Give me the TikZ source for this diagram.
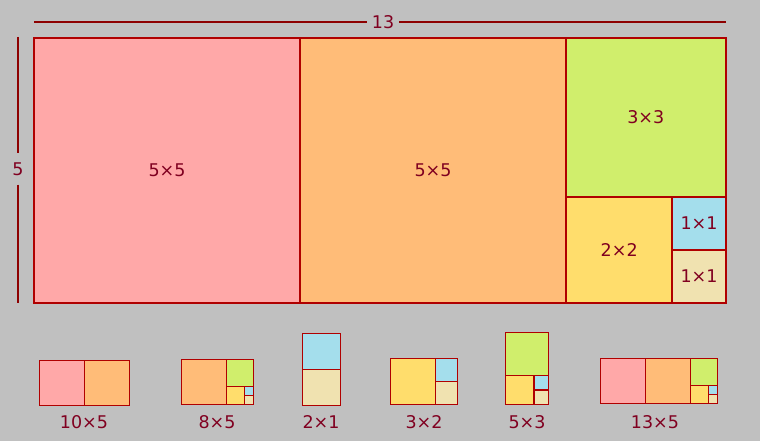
\documentclass[tikz,border=0pt]{standalone}
\usepackage{fontspec}
\setmainfont{DejaVu Sans}
\usepackage{tikz}
\usetikzlibrary{positioning}
\definecolor{bggrey}{RGB}{192,192,192}
\definecolor{edgered}{RGB}{176,0,0}
\definecolor{txtred}{RGB}{128,0,32}
\definecolor{sqpink}{RGB}{255,168,168}
\definecolor{sqorange}{RGB}{255,188,120}
\definecolor{sqgreen}{RGB}{208,238,108}
\definecolor{sqyellow}{RGB}{255,221,108}
\definecolor{sqblue}{RGB}{164,222,236}
\definecolor{sqbeige}{RGB}{240,226,176}

\begin{document}
\begin{tikzpicture}[
  x=1pt, y=-1pt,
  every node/.style={text=txtred, font=\fontsize{17.5}{20}\selectfont, inner sep=0pt},
  tile/.style={draw=edgered, line width=2pt},
  minitile/.style={draw=edgered, line width=1.3pt},
  dimline/.style={draw=edgered!80!black, line width=1.3pt},
  dimlabel/.style={inner xsep=5pt, inner ysep=9pt}
]
\fill[bggrey] (0,0) rectangle (760,441);
\useasboundingbox (0,0) rectangle (760,441);

\coordinate (wl) at (34,22);
\coordinate (wr) at (726,22);
\node[dimlabel] (width) at (383,22) {13};
\draw[dimline] (wl) -- (width) -- (wr);

\coordinate (ht) at (18,37);
\coordinate (hb) at (18,303);
\node[dimlabel] (height) at (18,169) {5};
\draw[dimline] (ht) -- (height) -- (hb);

\begin{scope}[shift={(34,38)}, x=53.2pt, y=-53pt]
\foreach \x/\y/\s/\c/\n in {0/0/5/sqpink/pinkA, 5/0/5/sqorange/orangeA, 10/0/3/sqgreen/greenA,
    10/3/2/sqyellow/yellowA, 12/3/1/sqblue/blueA, 12/4/1/sqbeige/beigeA} {
  \draw[tile, fill=\c] (\x,\y) rectangle ++(\s,\s);
  \node (\n) at (\x+\s/2,\y+\s/2) {\s×\s};
}
\end{scope}

\begin{scope}[shift={(39.3,360.3)}, x=9pt, y=-9pt]
\foreach \x/\y/\s/\c in {0/0/5/sqpink, 5/0/5/sqorange}
  \draw[minitile, fill=\c] (\x,\y) rectangle ++(\s,\s);
\end{scope}

\begin{scope}[shift={(181.3,359.3)}, x=9pt, y=-9pt, shift={(-5,0)}]
\foreach \x/\y/\s/\c in {5/0/5/sqorange, 10/0/3/sqgreen, 10/3/2/sqyellow, 12/3/1/sqblue, 12/4/1/sqbeige}
  \draw[minitile, fill=\c] (\x,\y) rectangle ++(\s,\s);
\end{scope}

\begin{scope}[shift={(302.3,333.3)}, x=38pt, y=-36pt, shift={(-12,-3)}]
\foreach \x/\y/\s/\c in {12/3/1/sqblue, 12/4/1/sqbeige}
  \draw[minitile, fill=\c] (\x,\y) rectangle ++(\s,\s);
\end{scope}

\begin{scope}[shift={(390.3,358.3)}, x=22.5pt, y=-23pt, shift={(-10,-3)}]
\foreach \x/\y/\s/\c in {10/3/2/sqyellow, 12/3/1/sqblue, 12/4/1/sqbeige}
  \draw[minitile, fill=\c] (\x,\y) rectangle ++(\s,\s);
\end{scope}

\begin{scope}[shift={(505.3,332.3)}, x=14.4pt, y=-14.4pt, shift={(-10,0)}]
\foreach \x/\y/\s/\c in {10/0/3/sqgreen, 10/3/2/sqyellow, 12/3/1/sqblue, 12/4/1/sqbeige}
  \draw[minitile, fill=\c] (\x,\y) rectangle ++(\s,\s);
\end{scope}

\begin{scope}[shift={(600.3,358.3)}, x=9pt, y=-9pt]
\foreach \x/\y/\s/\c in {0/0/5/sqpink, 5/0/5/sqorange, 10/0/3/sqgreen, 10/3/2/sqyellow, 12/3/1/sqblue, 12/4/1/sqbeige}
  \draw[minitile, fill=\c] (\x,\y) rectangle ++(\s,\s);
\end{scope}

\node (tenbyfive) at (84,422) {10×5};
\node (eightbyfive) at (217,422) {8×5};
\node (twobyone) at (321,422) {2×1};
\node (threebytwo) at (424,422) {3×2};
\node (fivebythree) at (527,422) {5×3};
\node (thirteenbyfive) at (655,422) {13×5};
\end{tikzpicture}
\end{document}
